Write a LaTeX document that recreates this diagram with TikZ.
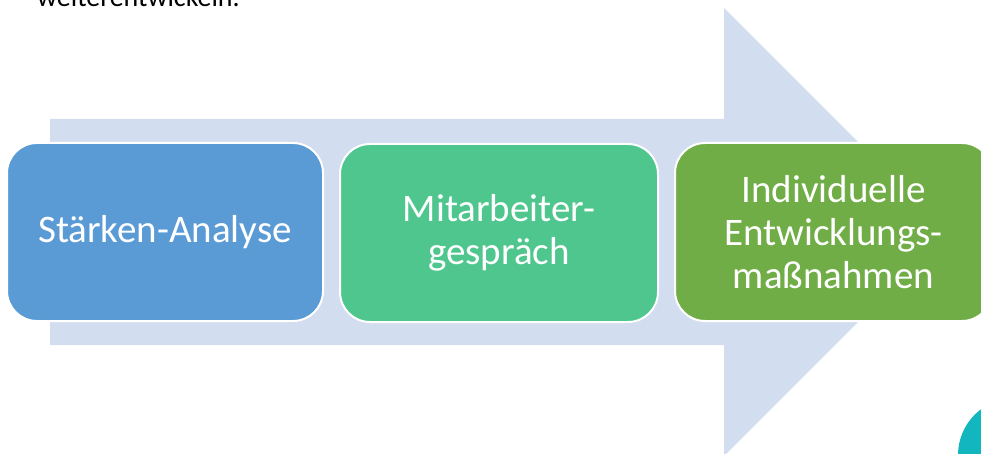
\documentclass[tikz,border=0pt]{standalone}
\usepackage{fontspec}
\setmainfont{Carlito}
\definecolor{arrowfill}{RGB}{210,222,239}
\definecolor{boxblue}{RGB}{91,155,213}
\definecolor{boxteal}{RGB}{79,198,142}
\definecolor{boxgreen}{RGB}{112,173,71}
\definecolor{dotteal}{RGB}{18,182,190}
\tikzset{
  stepbox/.style={draw=white, line width=2pt, rounded corners=30pt,
    minimum height=178pt, text=white, align=center,
    font=\fontsize{39}{43}\selectfont, inner sep=0pt},
}
\begin{document}
\begin{tikzpicture}[x=1pt,y=-1pt]
\useasboundingbox (0,0) rectangle (981,454);
\clip (0,0) rectangle (981,454);
% big background arrow
\fill[arrowfill] (50,119) -- (724,119) -- (724,8) -- (948,232) -- (724,456)
  -- (724,345) -- (50,345) -- cycle;
% top text (cut off)
\node[anchor=base west, inner sep=0pt, font=\fontsize{28}{32}\selectfont] (top) at (37,7) {weiterentwickeln.};
% boxes
\node[stepbox, fill=boxblue, minimum width=316pt] (b1) at (165,232) {Stärken-Analyse};
\node[stepbox, fill=boxteal, minimum width=318pt] (b2) at (499,233) {Mitarbeiter-\\gespräch};
\node[stepbox, fill=boxgreen, minimum width=317pt] (b3) at (833.5,232) {Individuelle\\Entwicklungs-\\maßnahmen};
% teal circle
\fill[dotteal] (1015,455) circle (57);
\end{tikzpicture}
\end{document}
